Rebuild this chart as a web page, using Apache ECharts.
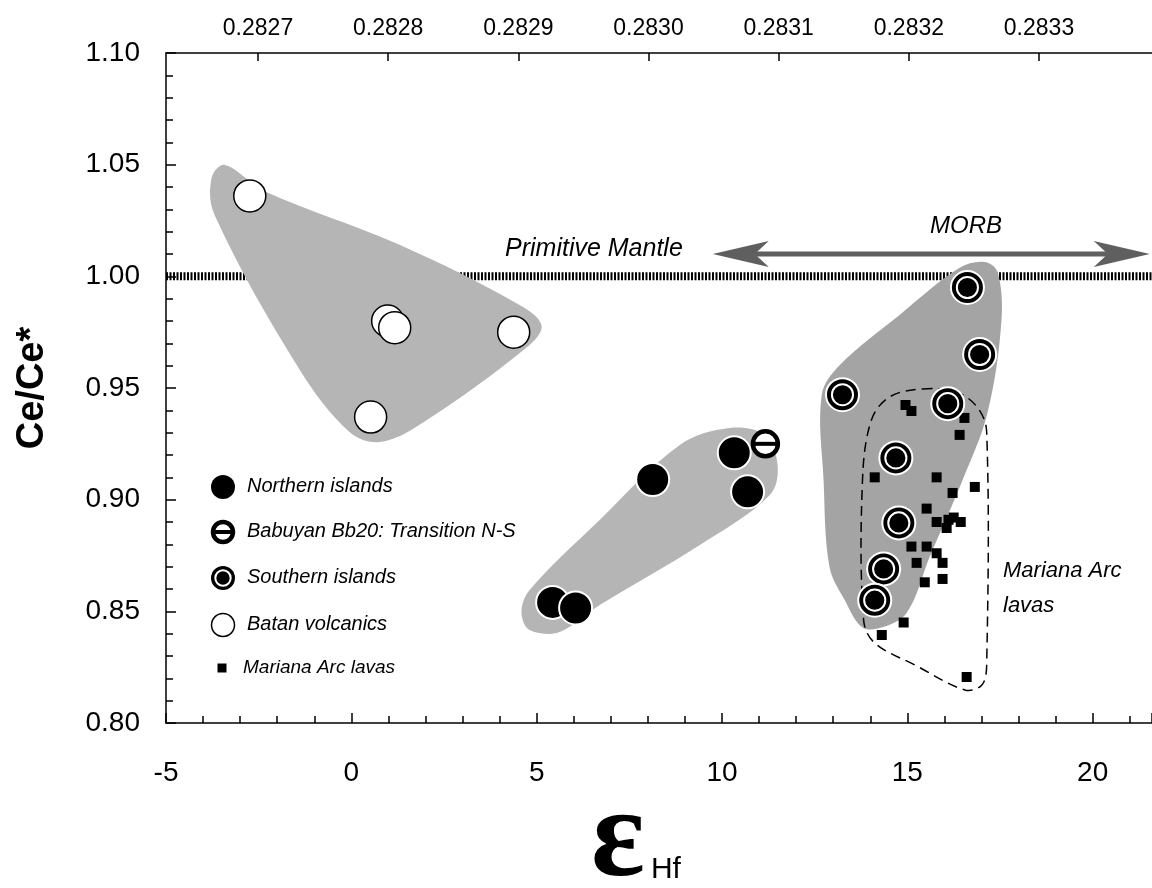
<!DOCTYPE html>
<html>
<head>
<meta charset="utf-8">
<title>Ce/Ce* vs eHf</title>
<script src="https://cdn.jsdelivr.net/npm/echarts@6/dist/echarts.min.js"></script>
<style>
  html, body { margin: 0; padding: 0; background: #fff; }
  #chart { width: 1152px; height: 888px; }
</style>
</head>
<body>
<div id="chart"></div>
<script>
// samples: [eHf, Ce/Ce*]
const northern = [[5.43, 0.854], [6.05, 0.8515], [8.13, 0.909], [10.33, 0.921], [10.69, 0.9035]];
const babuyan = [[11.17, 0.925]];
const southern = [[16.62, 0.995], [16.95, 0.965], [13.25, 0.947], [16.09, 0.943], [14.69, 0.9187],
  [14.77, 0.8896], [14.36, 0.869], [14.12, 0.855]];
const batan = [[-2.74, 1.036], [0.98, 0.980], [1.17, 0.977], [4.38, 0.975], [0.52, 0.937]];
const mariana = [[14.95, 0.9424], [15.11, 0.9397], [16.54, 0.9366], [16.41, 0.929], [14.12, 0.910],
  [15.79, 0.910], [16.82, 0.9057], [16.22, 0.903], [15.52, 0.896], [15.79, 0.890], [16.06, 0.8873],
  [16.25, 0.892], [16.44, 0.890], [16.11, 0.891], [15.11, 0.879], [15.52, 0.879], [15.79, 0.876],
  [15.95, 0.8717], [15.25, 0.8717], [15.47, 0.863], [15.95, 0.8645], [14.9, 0.845], [14.31, 0.8394],
  [16.6, 0.8206]];

// field outlines (data coords)
const batanField = [[-3.41, 1.0499], [-2.34, 1.0381], [1.30, 1.0141], [4.54, 0.9872], [5.13, 0.9782],
  [4.81, 0.9693], [1.84, 0.9335], [0.76, 0.9258], [-0.05, 0.9303], [-1.39, 0.9581], [-3.69, 1.0275], [-3.77, 1.0441]];
const northField = [[4.81, 0.8596], [6.70, 0.8909], [8.86, 0.9245], [10.20, 0.9321], [11.15, 0.9290],
  [11.50, 0.9155], [11.29, 0.9021], [9.40, 0.8797], [6.70, 0.8528], [5.62, 0.8408], [4.81, 0.8416], [4.59, 0.8497]];
const southField = [[12.69, 0.9469], [13.18, 0.9603], [14.79, 0.9827], [16.41, 1.0038], [17.08, 1.0064],
  [17.43, 1.0020], [17.54, 0.9805], [17.16, 0.9388], [16.49, 0.9088], [15.60, 0.8743], [14.98, 0.8493],
  [14.25, 0.8425], [13.77, 0.8430], [13.31, 0.8551], [12.90, 0.8699], [12.74, 0.9088]];
const marianaField = [[15.41, 0.9496], [16.33, 0.9482], [16.90, 0.9411], [17.14, 0.9303], [17.14, 0.8260],
  [17.01, 0.8170], [16.55, 0.8148], [15.20, 0.8260], [14.12, 0.8358], [13.82, 0.8461], [13.79, 0.9088],
  [14.03, 0.9357], [14.52, 0.9460]];

const primitiveMantle = [[-5, 1.0], [21.6, 1.0]];
const morbArrow = [[9.75, 1.010], [21.54, 1.010]];

const hfTicks = [0.2827, 0.2828, 0.2829, 0.2830, 0.2831, 0.2832, 0.2833];

const FONT = "'Liberation Sans Narrow','Arial Narrow','Liberation Sans',Arial,sans-serif";

function marker(kind, cx, cy, big) {
  const r = big ? 16.5 : 12;
  if (kind === 'north') {
    return [{type: 'circle', shape: {cx, cy, r}, style: {fill: '#000', stroke: '#fff', lineWidth: big ? 2 : 0}}];
  }
  if (kind === 'batan') {
    return [{type: 'circle', shape: {cx, cy, r: r - 0.5}, style: {fill: '#fff', stroke: '#000', lineWidth: 1.5}}];
  }
  if (kind === 'south') {
    return [
      {type: 'circle', shape: {cx, cy, r}, style: {fill: '#000', stroke: '#fff', lineWidth: big ? 2 : 0}},
      {type: 'circle', shape: {cx, cy, r: r * 0.64}, style: {fill: 'transparent', stroke: '#fff', lineWidth: 2}}
    ];
  }
  if (kind === 'babuyan') {
    const rb = big ? 12.5 : 10;
    return [
      {type: 'circle', shape: {cx, cy, r: rb}, style: {fill: '#fff', stroke: '#000', lineWidth: 4.5}},
      {type: 'rect', shape: {x: cx - rb, y: cy - 2, width: 2 * rb, height: 4}, style: {fill: '#000'}}
    ];
  }
  const s = big ? 10 : 9;
  return [{type: 'rect', shape: {x: cx - s / 2, y: cy - s / 2, width: s, height: s}, style: {fill: '#000'}}];
}

function pointSeries(name, data, kind, z) {
  return {
    name, type: 'custom', z, data, silent: true,
    renderItem: (params, api) => {
      const p = api.coord([api.value(0), api.value(1)]);
      return {type: 'group', children: marker(kind, p[0], p[1], true)};
    }
  };
}

function fieldSeries(points, style, z) {
  return {
    type: 'custom', z, silent: true, data: [points[0]],
    renderItem: (params, api) => ({
      type: 'polygon',
      shape: {points: points.map(p => api.coord(p)), smooth: 0.35},
      style
    })
  };
}

// legend drawn by hand (composite symbols)
const legendRows = [
  ['north', 'Northern islands', 487],
  ['babuyan', 'Babuyan Bb20: Transition N-S', 532],
  ['south', 'Southern islands', 578],
  ['batan', 'Batan volcanics', 625],
  ['mariana', 'Mariana Arc lavas', 668]
];
const legendEls = [];
legendRows.forEach(([kind, label, y]) => {
  const small = kind === 'mariana';
  marker(kind, small ? 222 : 223, y, false).forEach(el => legendEls.push(el));
  legendEls.push({
    type: 'text', left: small ? 243 : 247, top: y - (small ? 10 : 11),
    style: {text: label, fill: '#000', font: `italic ${small ? 19 : 20}px ${FONT}`}
  });
});

const chart = echarts.init(document.getElementById('chart'));
chart.setOption({
  animation: false,
  backgroundColor: '#fff',
  grid: {left: 166, right: 0, top: 53, bottom: 165, outerBoundsMode: 'none'},
  xAxis: [{
    type: 'value', min: -5, max: 21.6, interval: 5,
    axisLine: {onZero: false, lineStyle: {color: '#000', width: 1.5}},
    axisTick: {inside: true, length: 10, lineStyle: {color: '#000', width: 1.5}},
    minorTick: {show: true, splitNumber: 5, length: 7, lineStyle: {color: '#000', width: 1.5}},
    axisLabel: {color: '#000', fontSize: 28, fontFamily: FONT, margin: 36, showMaxLabel: false},
    splitLine: {show: false},
    name: '{e|ε}{s|Hf}',
    nameLocation: 'middle',
    nameGap: 56,
    nameMoveOverlap: false,
    nameTextStyle: {
      padding: [0, 46, 0, 0],
      rich: {
        e: {fontFamily: "'Liberation Serif','DejaVu Serif',serif", fontWeight: 'bold', fontSize: 126, lineHeight: 126, color: '#000', verticalAlign: 'bottom'},
        s: {fontFamily: FONT, fontSize: 30, lineHeight: 30, color: '#000', verticalAlign: 'bottom', padding: [0, 0, 20, 6]}
      }
    }
  }, {
    type: 'value', position: 'top', min: 0.28262932, max: 0.28338681,
    axisLine: {show: true, onZero: false, lineStyle: {color: '#000', width: 1.5}},
    axisTick: {inside: true, length: 8, customValues: hfTicks, lineStyle: {color: '#000', width: 1.5}},
    axisLabel: {customValues: hfTicks, color: '#000', fontSize: 23, fontFamily: FONT, margin: 13,
      formatter: v => v.toFixed(4)},
    splitLine: {show: false}
  }],
  yAxis: {
    type: 'value', min: 0.8, max: 1.1, interval: 0.05,
    axisLine: {show: true, onZero: false, lineStyle: {color: '#000', width: 1.5}},
    axisTick: {inside: true, length: 10, lineStyle: {color: '#000', width: 1.5}},
    minorTick: {show: true, splitNumber: 5, length: 7, lineStyle: {color: '#000', width: 1.5}},
    axisLabel: {color: '#000', fontSize: 28, fontFamily: FONT, margin: 26, formatter: v => v.toFixed(2)},
    splitLine: {show: false},
    name: 'Ce/Ce*',
    nameLocation: 'middle',
    nameGap: 114,
    nameMoveOverlap: false,
    nameTextStyle: {fontFamily: FONT, fontWeight: 'bold', fontSize: 38, color: '#000'}
  },
  graphic: [
    {type: 'text', left: 505, top: 237, z: 100,
      style: {text: 'Primitive Mantle', fill: '#000', font: `italic 25px ${FONT}`}},
    {type: 'text', left: 930, top: 214, z: 100,
      style: {text: 'MORB', fill: '#000', font: `italic 24px ${FONT}`}},
    {type: 'text', left: 1003, top: 553, z: 100,
      style: {text: 'Mariana Arc\nlavas', fill: '#000', font: `italic 22px ${FONT}`, lineHeight: 35}},
    {type: 'group', z: 100, children: legendEls}
  ],
  series: [
    {
      type: 'line', z: 1, silent: true, symbol: 'none', data: primitiveMantle,
      lineStyle: {color: '#000', width: 8, type: [2, 1.5], cap: 'butt'}
    },
    fieldSeries(batanField, {fill: '#b5b5b5'}, 2),
    fieldSeries(northField, {fill: '#b5b5b5'}, 2),
    fieldSeries(southField, {fill: '#a4a4a4'}, 2),
    fieldSeries(marianaField, {fill: 'transparent', stroke: '#000', lineWidth: 1.5, lineDash: [10, 6]}, 3),
    {
      type: 'custom', z: 3, silent: true, data: [morbArrow[0]],
      renderItem: (params, api) => {
        const a = api.coord(morbArrow[0]);
        const b = api.coord(morbArrow[1]);
        const L = 56, W = 13, n = 14, c = '#5f5f5f';
        return {type: 'group', children: [
          {type: 'line', shape: {x1: a[0] + L - n, y1: a[1], x2: b[0] - L + n, y2: b[1]}, style: {stroke: c, lineWidth: 5}},
          {type: 'polygon', shape: {points: [[a[0], a[1]], [a[0] + L, a[1] - W], [a[0] + L - n, a[1]], [a[0] + L, a[1] + W]]}, style: {fill: c}},
          {type: 'polygon', shape: {points: [[b[0], b[1]], [b[0] - L, b[1] - W], [b[0] - L + n, b[1]], [b[0] - L, b[1] + W]]}, style: {fill: c}}
        ]};
      }
    },
    pointSeries('Mariana Arc lavas', mariana, 'mariana', 4),
    pointSeries('Batan volcanics', batan, 'batan', 5),
    pointSeries('Northern islands', northern, 'north', 5),
    pointSeries('Babuyan Bb20: Transition N-S', babuyan, 'babuyan', 5),
    pointSeries('Southern islands', southern, 'south', 5)
  ]
});
</script>
</body>
</html>
